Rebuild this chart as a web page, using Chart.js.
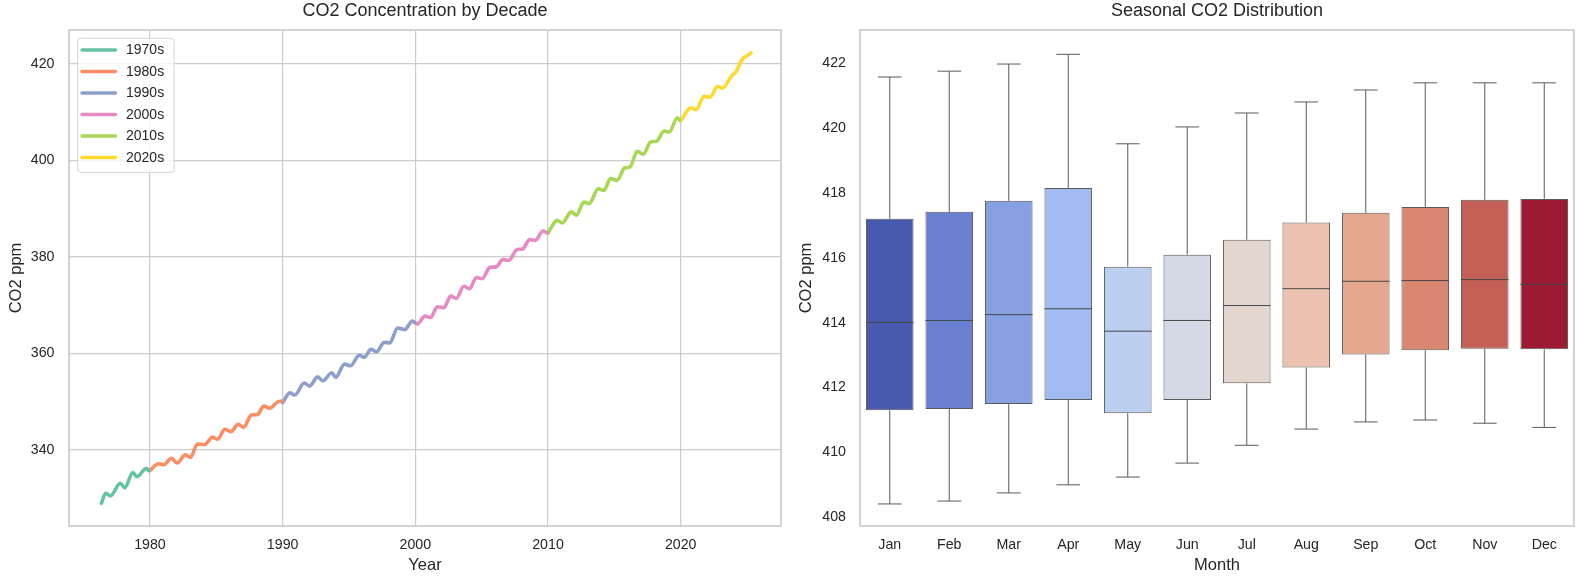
<!DOCTYPE html>
<html>
<head>
<meta charset="utf-8">
<title>CO2 charts</title>
<script src="https://cdn.jsdelivr.net/npm/chart.js@4.4.1/dist/chart.umd.min.js"></script>
<style>
  html, body { margin: 0; padding: 0; background: #ffffff; }
  #wrap { position: relative; width: 1584px; height: 584px; overflow: hidden; }
  canvas { position: absolute; top: 0; }
</style>
</head>
<body>
<div id="wrap">
  <canvas id="lineChart" width="792" height="584" style="left:0px"></canvas>
  <canvas id="boxChart" width="792" height="584" style="left:792px"></canvas>
</div>
<script>
// ---- left panel: CO2 by decade (turning points) ----
const years70s = [1976.34, 1976.67, 1977.02, 1977.77, 1978.10, 1978.72, 1979.02, 1979.73, 1979.92];
const co2_70s  = [328.96, 331.03, 330.48, 333.10, 332.20, 335.31, 334.48, 336.20, 335.72];

const years80s = [1980.00, 1980.65, 1981.05, 1981.62, 1982.05, 1982.66, 1983.05, 1983.58, 1984.10, 1984.72, 1985.10,
                  1985.65, 1986.10, 1986.65, 1987.05, 1987.65, 1988.10, 1988.58, 1989.02, 1989.60, 1989.92];
const co2_80s  = [335.75, 337.15, 336.95, 338.30, 337.30, 339.00, 338.45, 341.25, 341.10, 342.65, 342.25,
                  344.30, 343.80, 345.35, 344.70, 347.25, 347.35, 349.10, 348.65, 349.90, 350.15];

const years90s = [1990.00, 1990.55, 1990.92, 1991.63, 1992.02, 1992.65, 1993.02, 1993.71, 1994.00, 1994.66, 1995.12,
                  1995.77, 1996.14, 1996.66, 1997.07, 1997.66, 1998.08, 1998.66, 1999.20, 1999.78, 1999.92];
const co2_90s  = [349.80, 351.85, 351.40, 353.90, 353.25, 355.15, 354.35, 356.00, 355.05, 357.80, 357.45,
                  359.65, 359.20, 360.85, 360.35, 362.30, 362.20, 365.30, 364.95, 366.75, 366.45];

const years00s = [2000.00, 2000.15, 2000.73, 2001.15, 2001.66, 2002.16, 2002.66, 2003.09, 2003.66, 2004.09, 2004.60,
                  2005.04, 2005.62, 2006.10, 2006.58, 2007.05, 2007.67, 2008.08, 2008.62, 2009.05, 2009.62, 2009.92];
const co2_00s  = [366.35, 366.10, 367.75, 367.45, 369.70, 369.50, 371.90, 371.40, 373.95, 373.45, 375.75,
                  375.50, 377.85, 377.95, 379.45, 379.30, 381.55, 381.65, 383.60, 383.45, 385.40, 385.00];

const years10s = [2010.00, 2010.68, 2011.08, 2011.76, 2012.14, 2012.70, 2013.10, 2013.78, 2014.21, 2014.71, 2015.21,
                  2015.79, 2016.17, 2016.73, 2017.18, 2017.73, 2018.19, 2018.74, 2019.14, 2019.75, 2019.92];
const co2_10s  = [384.95, 387.60, 387.05, 389.35, 388.65, 391.40, 391.05, 394.15, 393.80, 396.25, 395.90,
                  398.50, 398.65, 401.90, 401.30, 403.85, 404.00, 406.10, 405.90, 408.85, 408.35];

const years20s = [2020.00, 2020.76, 2021.16, 2021.76, 2022.22, 2022.77, 2023.17, 2023.85, 2024.15, 2024.65, 2025.05, 2025.30];
const co2_20s  = [408.20, 410.90, 410.55, 413.30, 413.10, 415.35, 415.00, 417.60, 418.30, 421.00, 421.80, 422.30];

const decadeLabels = ['1970s', '1980s', '1990s', '2000s', '2010s', '2020s'];
const decadeColors = ['#66c2a5', '#fc8d62', '#8da0cb', '#e78ac3', '#a6d854', '#ffd92f'];
const yearTicks = [1980, 1990, 2000, 2010, 2020];
const ppmTicks = [340, 360, 380, 400, 420];

// ---- right panel: monthly distribution ----
const months = ['Jan', 'Feb', 'Mar', 'Apr', 'May', 'Jun', 'Jul', 'Aug', 'Sep', 'Oct', 'Nov', 'Dec'];
const whiskerLow  = [408.41, 408.50, 408.75, 409.00, 409.24, 409.67, 410.22, 410.72, 410.94, 411.00, 410.90, 410.77];
const quartile1   = [411.30, 411.34, 411.49, 411.62, 411.21, 411.62, 412.13, 412.62, 413.02, 413.15, 413.20, 413.18];
const medians     = [414.01, 414.07, 414.25, 414.43, 413.74, 414.07, 414.53, 415.05, 415.28, 415.30, 415.33, 415.18];
const quartile3   = [417.21, 417.42, 417.76, 418.16, 415.73, 416.10, 416.56, 417.09, 417.39, 417.57, 417.79, 417.82];
const whiskerHigh = [421.58, 421.76, 421.98, 422.28, 419.52, 420.04, 420.47, 420.81, 421.18, 421.40, 421.40, 421.40];
const monthColors = ['#4a59b0', '#6a7fd0', '#86a0e2', '#a2bbf1', '#bccff1', '#d3dae6',
                     '#e4d7d0', '#ecc3b1', '#e6a78f', '#d98771', '#c35f54', '#9c1a33'];
const boxTicks = [408, 410, 412, 414, 416, 418, 420, 422];

const FONT = '"Liberation Sans", Arial, sans-serif';
const TEXT = '#262626';
const SPINE = '#cccccc';
const BOXLINE = '#5a5a5a';

Chart.defaults.font.family = FONT;
Chart.defaults.color = TEXT;

// Turn two arrays into chart points
function toPoints(xs, ys) {
  return xs.map(function (x, i) { return { x: x, y: ys[i] }; });
}

// Light grey box round the plot area
const framePlugin = {
  id: 'frame',
  afterDatasetsDraw(chart) {
    const a = chart.chartArea;
    const ctx = chart.ctx;
    ctx.save();
    ctx.strokeStyle = SPINE;
    ctx.lineWidth = 1.7;
    ctx.strokeRect(a.left, a.top, a.right - a.left, a.bottom - a.top);
    ctx.restore();
  }
};

// Legend in the upper left corner of the plot, with a framed box
const decadeLegend = {
  id: 'decadeLegend',
  afterDatasetsDraw(chart) {
    const a = chart.chartArea;
    const ctx = chart.ctx;
    const x0 = a.left + 8.7, y0 = a.top + 8.3;
    ctx.save();
    ctx.beginPath();
    ctx.roundRect(x0, y0, 96.3, 134, 3);
    ctx.fillStyle = 'rgba(255,255,255,0.8)';
    ctx.fill();
    ctx.strokeStyle = '#d6d6d6';
    ctx.lineWidth = 1;
    ctx.stroke();
    ctx.font = '14px ' + FONT;
    ctx.textBaseline = 'middle';
    chart.data.datasets.forEach(function (ds, i) {
      const y = a.top + 20 + i * 21.5;
      ctx.beginPath();
      ctx.moveTo(a.left + 13, y);
      ctx.lineTo(a.left + 46.5, y);
      ctx.strokeStyle = ds.borderColor;
      ctx.lineWidth = 3.3;
      ctx.lineCap = 'round';
      ctx.stroke();
      ctx.fillStyle = TEXT;
      ctx.fillText(ds.label, a.left + 57, y + 0.5);
    });
    ctx.restore();
  }
};

// Whiskers behind the boxes, medians on top of them
const boxParts = {
  id: 'boxParts',
  beforeDatasetsDraw(chart) {
    const ctx = chart.ctx;
    const xs = chart.scales.x, ys = chart.scales.y;
    const bars = chart.getDatasetMeta(0).data;
    ctx.save();
    ctx.strokeStyle = BOXLINE;
    ctx.lineWidth = 1;
    months.forEach(function (m, i) {
      const cx = xs.getPixelForValue(i);
      const cap = bars[i].width / 4;
      const lo = ys.getPixelForValue(whiskerLow[i]);
      const hi = ys.getPixelForValue(whiskerHigh[i]);
      ctx.beginPath();
      ctx.moveTo(cx, lo); ctx.lineTo(cx, ys.getPixelForValue(quartile1[i]));
      ctx.moveTo(cx, hi); ctx.lineTo(cx, ys.getPixelForValue(quartile3[i]));
      ctx.moveTo(cx - cap, lo); ctx.lineTo(cx + cap, lo);
      ctx.moveTo(cx - cap, hi); ctx.lineTo(cx + cap, hi);
      ctx.stroke();
    });
    ctx.restore();
  },
  afterDatasetsDraw(chart) {
    const ctx = chart.ctx;
    const xs = chart.scales.x, ys = chart.scales.y;
    const bars = chart.getDatasetMeta(0).data;
    ctx.save();
    ctx.strokeStyle = '#474747';
    ctx.lineWidth = 1;
    months.forEach(function (m, i) {
      const cx = xs.getPixelForValue(i);
      const half = bars[i].width / 2;
      const y = ys.getPixelForValue(medians[i]);
      ctx.beginPath();
      ctx.moveTo(cx - half, y); ctx.lineTo(cx + half, y);
      ctx.stroke();
    });
    ctx.restore();
  }
};

function fixedTicks(list) {
  return function (scale) { scale.ticks = list.map(function (v) { return { value: v }; }); };
}

// ---- build the line chart ----
const decadeData = [
  toPoints(years70s, co2_70s), toPoints(years80s, co2_80s), toPoints(years90s, co2_90s),
  toPoints(years00s, co2_00s), toPoints(years10s, co2_10s), toPoints(years20s, co2_20s)
];

new Chart(document.getElementById('lineChart'), {
  type: 'line',
  data: {
    datasets: decadeData.map(function (pts, i) {
      return {
        label: decadeLabels[i],
        data: pts,
        borderColor: decadeColors[i],
        borderWidth: 3.6,
        borderCapStyle: 'round',
        borderJoinStyle: 'round',
        pointRadius: 0,
        cubicInterpolationMode: 'monotone',
        fill: false
      };
    })
  },
  options: {
    responsive: false,
    animation: false,
    devicePixelRatio: 1,
    layout: { padding: { left: 0, right: 11, top: 0, bottom: 0 } },
    plugins: {
      legend: { display: false },
      tooltip: { enabled: false },
      title: {
        display: true, text: 'CO2 Concentration by Decade', fullSize: false,
        font: { size: 18, weight: 'normal' }, color: TEXT, padding: { top: 0, bottom: 8.4 }
      }
    },
    scales: {
      x: {
        type: 'linear', min: 1973.9, max: 2027.56,
        afterBuildTicks: fixedTicks(yearTicks),
        afterFit: function (s) { s.height = 58; },
        grid: { color: SPINE, lineWidth: 1.2, drawTicks: false },
        border: { display: false },
        ticks: { padding: 10.5, font: { size: 14.2 }, color: TEXT, callback: function (v) { return String(v); } },
        title: { display: true, text: 'Year', font: { size: 16.5 }, color: TEXT, padding: { top: 0, bottom: 9.1 } }
      },
      y: {
        min: 324.25, max: 427.05,
        afterBuildTicks: fixedTicks(ppmTicks),
        afterFit: function (s) { s.width = 69; },
        grid: { color: SPINE, lineWidth: 1.2, drawTicks: false },
        border: { display: false },
        ticks: { padding: 14.5, font: { size: 14.2 }, color: TEXT, callback: function (v) { return String(v); } },
        title: { display: true, text: 'CO2 ppm', font: { size: 16.5 }, color: TEXT, padding: { top: 6.1, bottom: 0 } }
      }
    }
  },
  plugins: [framePlugin, decadeLegend]
});

// ---- build the box chart ----
new Chart(document.getElementById('boxChart'), {
  type: 'bar',
  data: {
    labels: months,
    datasets: [{
      label: 'CO2',
      data: months.map(function (m, i) { return [quartile1[i], quartile3[i]]; }),
      backgroundColor: monthColors,
      borderColor: BOXLINE,
      borderWidth: 1,
      borderSkipped: false,
      barPercentage: 0.8,
      categoryPercentage: 1.0
    }]
  },
  options: {
    responsive: false,
    animation: false,
    devicePixelRatio: 1,
    layout: { padding: { left: 0, right: 10, top: 0, bottom: 0 } },
    plugins: {
      legend: { display: false },
      tooltip: { enabled: false },
      title: {
        display: true, text: 'Seasonal CO2 Distribution', fullSize: false,
        font: { size: 18, weight: 'normal' }, color: TEXT, padding: { top: 0, bottom: 8.4 }
      }
    },
    scales: {
      x: {
        afterFit: function (s) { s.height = 58; },
        grid: { display: false, drawTicks: false },
        border: { display: false },
        ticks: { padding: 10.5, font: { size: 14.2 }, color: TEXT },
        title: { display: true, text: 'Month', font: { size: 16.5 }, color: TEXT, padding: { top: 0, bottom: 9.1 } }
      },
      y: {
        min: 407.73, max: 423.03,
        afterBuildTicks: fixedTicks(boxTicks),
        afterFit: function (s) { s.width = 68; },
        grid: { display: false, drawTicks: false },
        border: { display: false },
        ticks: { padding: 14, font: { size: 14.2 }, color: TEXT, callback: function (v) { return String(v); } },
        title: { display: true, text: 'CO2 ppm', font: { size: 16.5 }, color: TEXT, padding: { top: 4.6, bottom: 0 } }
      }
    }
  },
  plugins: [framePlugin, boxParts]
});
</script>
</body>
</html>
